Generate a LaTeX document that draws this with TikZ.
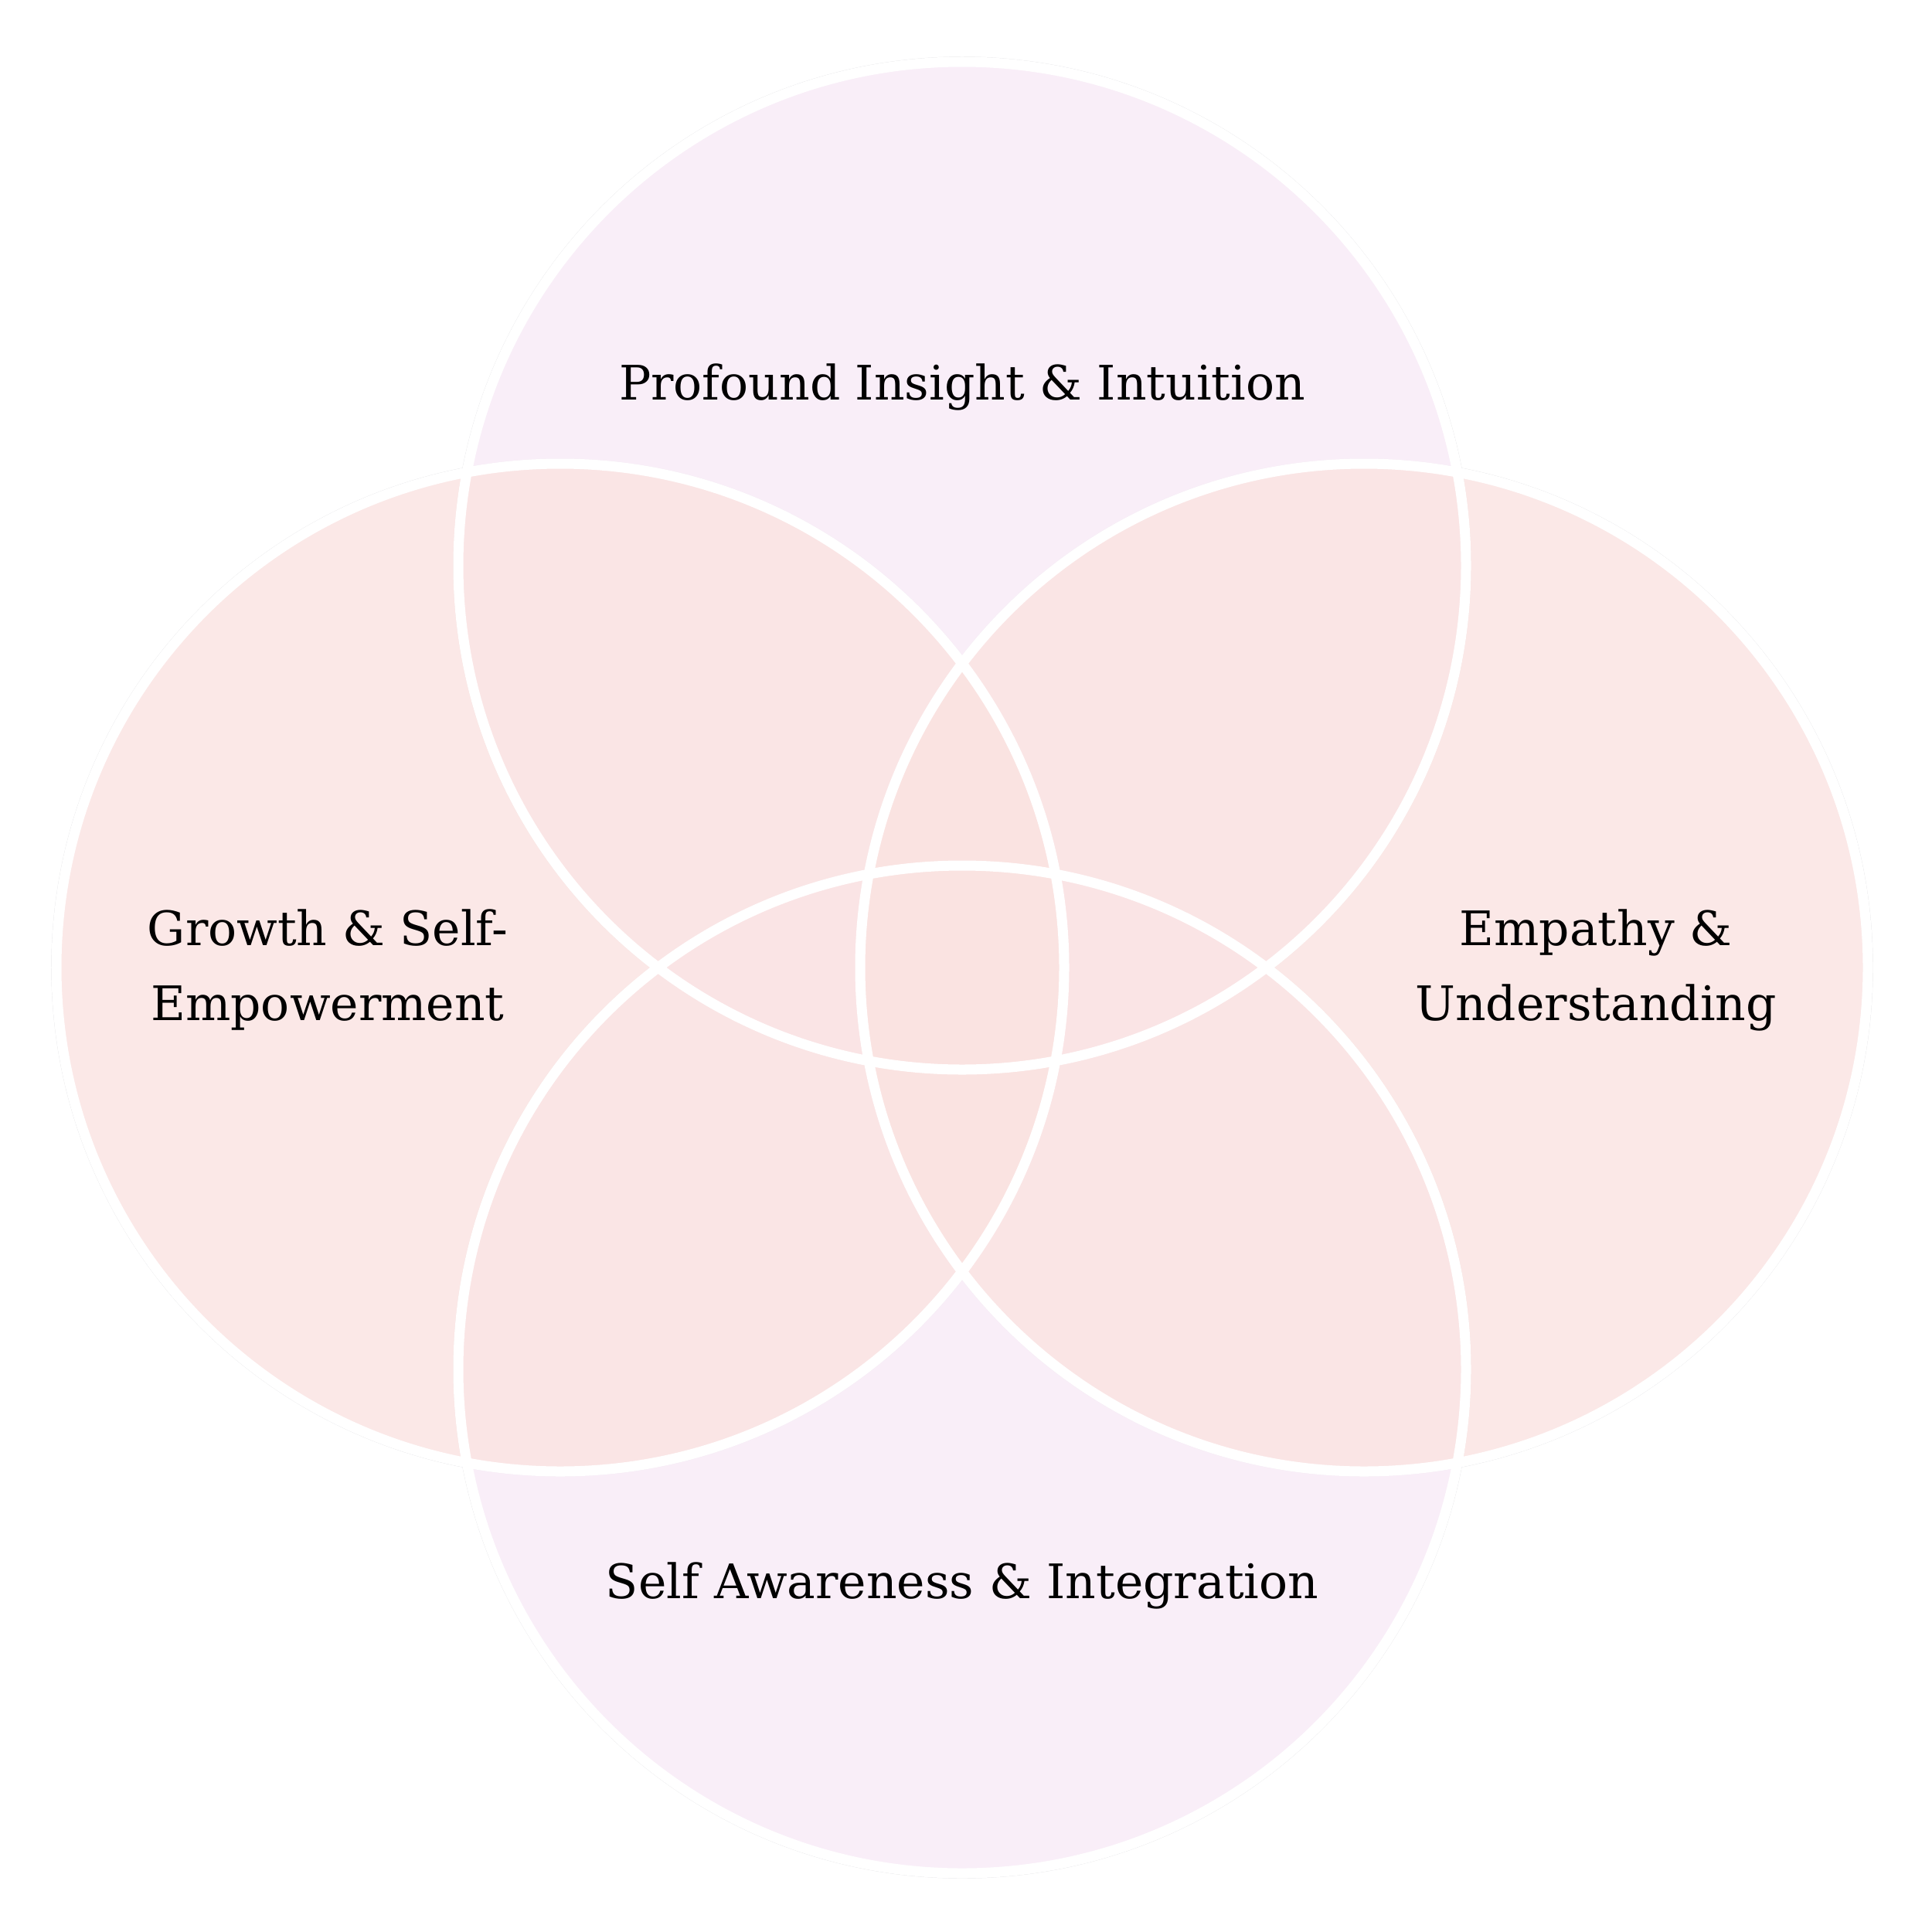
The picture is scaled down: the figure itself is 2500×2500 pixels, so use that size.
\documentclass[tikz,border=0pt]{standalone}
\usepackage{fontspec}
\setmainfont{DejaVu Serif}
\definecolor{lav}{RGB}{248,236,247}
\definecolor{rose}{RGB}{251,227,225}
\definecolor{rim}{RGB}{225,225,228}
\tikzset{
  vfillA/.style={fill=lav, fill opacity=0.85},
  vfillB/.style={fill=rose, fill opacity=0.8},
  vring/.style={draw=white, line width=0.13cm},
  vrim/.style={draw=rim, line width=0.4pt},
  vlabel/.style={text=black, align=center, font=\fontsize{17.5}{27.6}\selectfont}
}
\begin{document}
\begin{tikzpicture}[x=0.01cm,y=-0.01cm]
\useasboundingbox (0,0) rectangle (2500,2500);
\fill[white] (0,0) rectangle (2500,2500);
\coordinate (ct) at (1245,732);
\coordinate (cr) at (1765,1252);
\coordinate (cb) at (1245,1772);
\coordinate (cl) at (725,1252);
% faint outer rims
\foreach \c in {ct,cr,cb,cl} \draw[vrim] (\c) circle[radius=658];
% fills
\fill[vfillA] (ct) circle[radius=652];
\fill[vfillA] (cb) circle[radius=652];
\fill[vfillB] (cl) circle[radius=652];
\fill[vfillB] (cr) circle[radius=652];
% white outlines
\foreach \c in {ct,cr,cb,cl} \draw[vring] (\c) circle[radius=652];
% labels
\node[vlabel] (top) at (1245,501) {Profound Insight \& Intuition};
\node[vlabel] (bot) at (1245,2052) {Self Awareness \& Integration};
\node[vlabel] (lft) at (424,1255) {Growth \& Self-\\Empowerment};
\node[vlabel] (rgt) at (2065,1255) {Empathy \&\\Understanding};
\end{tikzpicture}
\end{document}
